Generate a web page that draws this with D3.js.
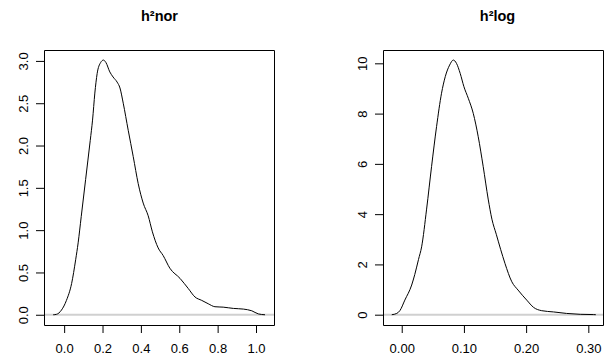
<!DOCTYPE html>
<html><head><meta charset="utf-8">
<script src="https://cdn.jsdelivr.net/npm/d3@7"></script>
<style>body{margin:0;background:#fff}svg{display:block;font-family:"Liberation Sans",Arial,Helvetica,sans-serif}</style>
</head><body>
<script>
// Panel 1: h²nor density
const norX = [-0.057,-0.04,-0.014,0.012,0.039,0.060,0.073,0.089,0.112,0.136,0.148,0.160,0.172,0.190,0.205,0.218,0.238,0.255,0.276,0.291,0.308,0.334,0.360,0.386,0.412,0.438,0.460,0.490,0.516,0.551,0.604,0.647,0.682,0.717,0.751,0.786,0.829,0.882,0.934,0.978,1.012,1.047];
const norY = [0,0.005,0.055,0.17,0.37,0.65,0.85,1.16,1.60,2.06,2.30,2.62,2.85,2.98,3.01,2.98,2.87,2.81,2.75,2.68,2.50,2.18,1.87,1.55,1.32,1.17,0.98,0.79,0.70,0.55,0.43,0.31,0.21,0.17,0.13,0.095,0.09,0.075,0.067,0.047,0.01,0];
const norXTicks = [0,0.2,0.4,0.6,0.8,1.0];
const norYTicks = [0,0.5,1.0,1.5,2.0,2.5,3.0];
// Panel 2: h²log density
const logX = [-0.016,-0.008,-0.003,0.005,0.016,0.021,0.027,0.032,0.040,0.048,0.056,0.064,0.070,0.077,0.083,0.088,0.094,0.100,0.107,0.115,0.123,0.131,0.139,0.145,0.152,0.159,0.166,0.177,0.187,0.201,0.212,0.225,0.244,0.265,0.287,0.308,0.312];
const logY = [0,0.05,0.16,0.58,1.18,1.60,2.20,2.70,4.20,5.90,7.48,8.81,9.47,9.93,10.13,10.0,9.60,9.07,8.61,8.01,7.08,5.89,4.60,3.80,3.20,2.60,2.04,1.31,0.98,0.58,0.29,0.16,0.11,0.05,0.015,0.005,0];
const logXTicks = [0,0.1,0.2,0.3];
const logYTicks = [0,2,4,6,8,10];
const titles = ["h²nor","h²log"];

const W=605,H=362;
const svg=d3.select("body").append("svg").attr("width",W).attr("height",H);

const panels=[
 {title:titles[0],xs:norX,ys:norY,xt:norXTicks,yt:norYTicks,xf:d3.format(".1f"),yf:d3.format(".1f"),
  box:[44,275,50,325],xd:[-0.105,1.099],yd:[-0.121,3.129]},
 {title:titles[1],xs:logX,ys:logY,xt:logXTicks,yt:logYTicks,xf:d3.format(".2f"),yf:d3.format("d"),
  box:[383,604,50,325],xd:[-0.0301,0.3252],yd:[-0.41,10.53]}
];

const fontFam="Liberation Sans, Arial, sans-serif";

panels.forEach((p,i)=>{
  const [x0,x1,y0,y1]=p.box;
  const x=d3.scaleLinear().domain(p.xd).range([x0,x1]);
  const y=d3.scaleLinear().domain(p.yd).range([y1,y0]);
  const g=svg.append("g");
  // gray zero line
  g.append("line").attr("x1",x0).attr("x2",x1).attr("y1",y(0)).attr("y2",y(0))
    .style("stroke","#d0d0d0").style("stroke-width","2px");
  const data=p.xs.map((v,k)=>[v,p.ys[k]]);
  g.append("path").datum(data)
    .attr("d",d3.line().x(d=>Math.min(x(d[0]),x1)).y(d=>y(d[1])).curve(d3.curveMonotoneX))
    .style("fill","none").style("stroke","#000").style("stroke-width","1px");
  // x axis ticks
  const xa=g.append("g").attr("transform",`translate(0,${y1})`)
    .call(d3.axisBottom(x).tickValues(p.xt).tickFormat(p.xf).tickSizeInner(8).tickSizeOuter(0).tickPadding(11));
  xa.select(".domain").remove();
  xa.selectAll("line").style("stroke","#000");
  xa.selectAll("text").style("font-size","13px").style("fill","#000").style("font-family",fontFam);
  // y axis ticks
  const ya=g.append("g").attr("transform",`translate(${x0},0)`)
    .call(d3.axisLeft(y).tickValues(p.yt).tickFormat(p.yf).tickSizeInner(8).tickSizeOuter(0));
  ya.select(".domain").remove();
  ya.selectAll("line").style("stroke","#000");
  ya.selectAll(".tick text")
    .attr("x",0).attr("y",0).attr("dy","0.35em").attr("text-anchor","middle")
    .attr("transform","translate(-21,0) rotate(-90)")
    .style("font-size","13px").style("fill","#000").style("font-family",fontFam);
  // frame
  g.append("path")
    .attr("d",`M${x0+0.5},${y0+0.5}H${x1-0.5}V${y1+0.5}H${x0+0.5}Z`)
    .style("fill","none").style("stroke","#000").style("stroke-width","1px");
  // title
  svg.append("text").attr("x",(x0+x1)/2+(i?4:0)).attr("y",21).attr("text-anchor","middle")
    .style("font-size","14.5px").style("font-weight","bold").style("font-family",fontFam).text(p.title);
});
</script>
</body></html>
